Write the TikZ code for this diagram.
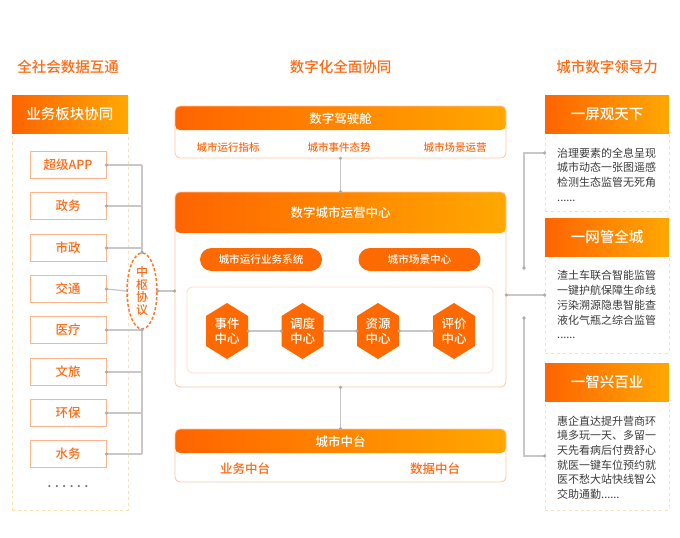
\documentclass[tikz,border=0pt]{standalone}
\usepackage{fontspec}
\setmainfont{Noto Sans CJK SC}[BoldFont={Noto Sans CJK SC Medium}]
\usetikzlibrary{shapes.geometric}
\definecolor{oA}{HTML}{FF6400}
\definecolor{oB}{HTML}{FFA800}
\definecolor{otx}{HTML}{FF6A14}
\definecolor{obd}{HTML}{FFB48C}
\definecolor{mbd}{HTML}{FFC4A4}
\definecolor{ibd}{HTML}{FFDCCB}
\definecolor{ydash}{HTML}{FFE0B4}
\definecolor{gline}{HTML}{C8C8C8}
\definecolor{gdot}{HTML}{ABABAB}
\definecolor{btx}{HTML}{3C3C3C}
\definecolor{pillc}{HTML}{FF6A00}
\newcommand\fsz[2]{\fontsize{#1}{#2}\selectfont}
\tikzset{
  ttl/.style={text=otx, inner sep=0, font=\fsz{14.5}{16}\bfseries},
  hdr/.style={minimum width=116pt, minimum height=38pt, inner sep=0, left color=oA, right color=oB, text=white, font=\fsz{14.5}{16}\bfseries},
  rhdr/.style={hdr, minimum width=124pt},
  dbox/.style={draw=ydash, dashed, line width=0.8pt, minimum width=116pt, inner sep=0},
  rbox/.style={dbox, minimum width=124pt},
  item/.style={draw=obd, line width=0.9pt, minimum width=76pt, minimum height=27pt, inner sep=0, text=otx, font=\fsz{12.5}{14}\bfseries},
  mbox/.style={draw=mbd, line width=0.8pt, fill=white, rounded corners=5pt, minimum width=331pt, inner sep=0,
    path picture={\shade[left color=oA,right color=oB] (path picture bounding box.north west) rectangle ([yshift=-#1]path picture bounding box.north east);}},
  htx/.style={text=white, inner sep=0, font=\fsz{12.5}{14}\bfseries},
  stx/.style={text=otx, inner sep=0, font=\fsz{10.5}{12}\bfseries},
  stxb/.style={text=otx, inner sep=0, font=\fsz{12.5}{14}\bfseries},
  pill/.style={fill=pillc, rounded corners=11.5pt, minimum width=122pt, minimum height=23pt, inner sep=0, text=white, font=\fsz{10.6}{12}\bfseries},
  hexn/.style={minimum width=42pt, minimum height=56pt, inner sep=0, align=center, text=white, font=\fsz{12.5}{15}\bfseries,
    path picture={\fill[pillc] (path picture bounding box.north) -- ([yshift=-13pt]path picture bounding box.north east) -- ([yshift=13pt]path picture bounding box.south east) -- (path picture bounding box.south) -- ([yshift=13pt]path picture bounding box.south west) -- ([yshift=-13pt]path picture bounding box.north west) -- cycle;}},
  btext/.style={anchor=north west, inner sep=0, align=left, text=btx, font=\fsz{11}{14.7}},
  conn/.style={draw=gline, line width=1.3pt},
}
\begin{document}
\begin{tikzpicture}[x=1pt,y=-1pt]
\useasboundingbox[fill=white] (0,0) rectangle (680,538);
% titles
\node[ttl] (t1) at (68,67) {全社会数据互通};
\node[ttl] (t2) at (340.5,67) {数字化全面协同};
\node[ttl] (t3) at (607,67) {城市数字领导力};
% left column
\node[dbox, minimum height=377pt] (lb) at (70,321.5) {};
\node[hdr] (lh) at (70,114) {业务板块协同};
\foreach \n/\t/\y in {i1/超级APP/165, i2/政务/206, i3/市政/248, i4/交通/289, i5/医疗/330, i6/文旅/372, i7/环保/413, i8/水务/454}
  \node[item] (\n) at (68,\y) {\t};
\node[text=gdot!70!black, inner sep=0, font=\fsz{14}{14}\bfseries] (ldots) at (68,487) {.\hspace{3.2pt}.\hspace{3.2pt}.\hspace{3.2pt}.\hspace{3.2pt}.\hspace{3.2pt}.};
\node[ellipse, draw=otx!90, dashed, dash pattern=on 3pt off 2pt, line width=1.5pt, minimum width=30pt, minimum height=76pt, inner sep=0, align=center, text=otx, font=\fsz{12}{12.7}\bfseries] (ell) at (142,291) {中\\枢\\协\\议};
% middle column
\node[mbox=24pt, minimum height=52pt] (cb) at (340.5,132) {};
\node[htx] (cbh) at (340.5,118.5) {数字驾驶舱};
\node[stx] (c1) at (228,147) {城市运行指标};
\node[stx] (c2) at (339,147) {城市事件态势};
\node[stx] (c3) at (455,147) {城市场景运营};
\node[mbox=41pt, minimum height=195pt] (oc) at (340.5,289.5) {};
\node[htx] (och) at (340.5,212.5) {数字城市运营中心};
\node[pill] (p1) at (261,259.5) {城市运行业务系统};
\node[pill] (p2) at (419.5,259.5) {城市场景中心};
\node[draw=ibd, line width=0.8pt, rounded corners=6pt, minimum width=306pt, minimum height=86pt, inner sep=0] (ib) at (340,330) {};
\node[hexn] (h1) at (227,331) {事件\\中心};
\node[hexn] (h2) at (302.5,331) {调度\\中心};
\node[hexn] (h3) at (378,331) {资源\\中心};
\node[hexn] (h4) at (454,331) {评价\\中心};
\node[mbox=24pt, minimum height=53pt] (zt) at (340.5,455.5) {};
\node[htx] (zth) at (340.5,441.5) {城市中台};
\node[stxb] (z1) at (245,469) {业务中台};
\node[stxb] (z2) at (435,469) {数据中台};
% right column
\node[rbox, minimum height=78pt] (r1b) at (607,172) {};
\node[rhdr] (r1h) at (607,114) {一屏观天下};
\node[btext] (r1t) at (557,147.5) {治理要素的全息呈现\\城市动态一张图遥感\\检测生态监管无死角\\......};
\node[rbox, minimum height=97pt] (r2b) at (607,304.5) {};
\node[rhdr] (r2h) at (607,237) {一网管全城};
\node[btext] (r2t) at (557,270.5) {渣土车联合智能监管\\一键护航保障生命线\\污染溯源隐患智能查\\液化气瓶之综合监管\\......};
\node[rbox, minimum height=109pt] (r3b) at (607,455.5) {};
\node[rhdr] (r3h) at (607,382) {一智兴百业};
\node[btext] (r3t) at (557,415.5) {惠企直达提升营商环\\境多玩一天、多留一\\天先看病后付费舒心\\就医一键车位预约就\\医不愁大站快线智公\\交助通勤......};
% left connectors
\foreach \n in {i1,i2,i3,i5,i6,i7,i8}
  \draw[conn] (\n.east) -- (\n.east -| ell.center);
\draw[conn] (i4.east) -- (ell.west);
\draw[conn] (i1.east -| ell.center) -- (ell.north);
\draw[conn] (ell.south) -- (i8.east -| ell.center);
\draw[conn] (ell.east) -- (ell.east -| oc.west);
\foreach \n in {i1,i2,i3,i4,i5,i6,i7,i8}
  \fill[gdot] (\n.east) circle (1.8pt);
\foreach \p in {ell.north,ell.south,ell.east}
  \fill[gdot] (\p) circle (1.8pt);
\fill[gdot] (ell.east -| oc.west) circle (1.8pt);
% middle connectors
\draw[conn] (cb.south) -- (oc.north);
\draw[conn] (oc.south) -- (zt.north);
\draw[conn] (h1.east) -- (h2.west);
\draw[conn] (h2.east) -- (h3.west);
\draw[conn] (h3.east) -- (h4.west);
\foreach \p in {cb.south,oc.north,oc.south,zt.north,h1.east,h2.west,h2.east,h3.west,h3.east,h4.west}
  \fill[gdot] (\p) circle (1.8pt);
% right connectors
\coordinate (ja) at (524,153);
\coordinate (jb) at (524,268);
\coordinate (jc) at (524,318);
\coordinate (jd) at (524,456);
\coordinate (jr) at (524,295);
\draw[conn] (r1b.west |- ja) -- (ja) -- (jb);
\draw[conn] (oc.east |- jr) -- (r2b.west |- jr);
\draw[conn] (jc) -- (jd) -- (r3b.west |- jd);
\foreach \p in {r1b.west |- ja, jb, jc, r3b.west |- jd, r2b.west |- jr, oc.east |- jr}
  \fill[gdot] (\p) circle (1.8pt);
\end{tikzpicture}
\end{document}
